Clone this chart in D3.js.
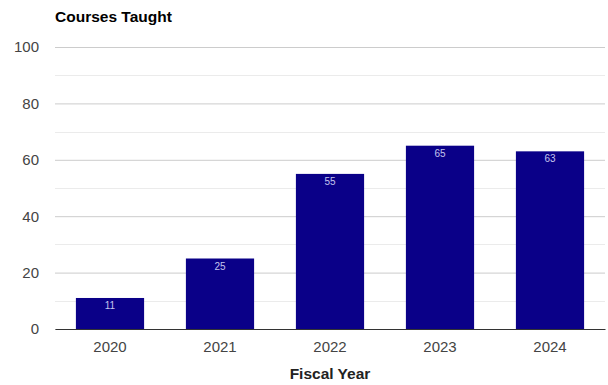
<!DOCTYPE html>
<html>
<head>
<meta charset="utf-8">
<script src="https://cdn.jsdelivr.net/npm/d3@7"></script>
<style>
  html, body { margin: 0; padding: 0; background: #fff; }
  svg { display: block; font-family: "Liberation Sans", Arial, sans-serif; }
</style>
</head>
<body>
<svg id="chart" width="608" height="385"></svg>
<script>
// Courses taught per fiscal year
const years = ["2020", "2021", "2022", "2023", "2024"];
const courses = [11, 25, 55, 65, 63];
const majorTicks = [0, 20, 40, 60, 80, 100];
const minorTicks = [10, 30, 50, 70, 90];

const svg = d3.select("#chart");
const margin = { top: 47, right: 3, bottom: 56, left: 55 };
const W = 608, H = 385;
const innerW = W - margin.left - margin.right;
const innerH = H - margin.top - margin.bottom;

const g = svg.append("g").attr("transform", `translate(${margin.left},${margin.top})`);

const x = d3.scaleBand().domain(years).range([0, innerW]).paddingInner(0.38).paddingOuter(0.19);
const y = d3.scaleLinear().domain([0, 100]).range([innerH, 0]);

// minor gridlines
g.selectAll(".minor").data(minorTicks).join("line")
  .attr("x1", 0).attr("x2", innerW)
  .attr("y1", d => Math.round(y(d)) + 0.5).attr("y2", d => Math.round(y(d)) + 0.5)
  .attr("stroke", "#ebebeb").attr("stroke-width", 1);

// major gridlines + y axis labels
const yAxis = d3.axisLeft(y).tickValues(majorTicks).tickSize(-innerW).tickPadding(16);
const ya = g.append("g").call(yAxis);
ya.select(".domain").remove();
ya.selectAll(".tick line").attr("stroke", "#cccccc");
ya.selectAll(".tick text").attr("fill", "#444").attr("font-size", 15);

// bars
g.selectAll(".bar").data(courses).join("rect")
  .attr("x", (d, i) => x(years[i]))
  .attr("width", x.bandwidth())
  .attr("y", d => y(d))
  .attr("height", d => innerH - y(d))
  .attr("fill", "#0a0088");

// value labels
g.selectAll(".val").data(courses).join("text")
  .attr("x", (d, i) => x(years[i]) + x.bandwidth() / 2)
  .attr("y", d => y(d) + 11)
  .attr("text-anchor", "middle")
  .attr("font-size", 10)
  .attr("fill", "#c4c4ee")
  .text(d => d);

// x axis
const xAxis = d3.axisBottom(x).tickSize(0).tickPadding(12);
const xa = g.append("g").attr("transform", `translate(0,${innerH})`).call(xAxis);
xa.select(".domain").attr("stroke", "#333").attr("stroke-width", 1);
xa.selectAll(".tick text").attr("fill", "#444").attr("font-size", 15);

// titles
svg.append("text")
  .attr("x", margin.left).attr("y", 22)
  .attr("font-size", 15.5).attr("font-weight", "bold").attr("fill", "#000")
  .text("Courses Taught");

svg.append("text")
  .attr("x", margin.left + innerW / 2).attr("y", 379)
  .attr("text-anchor", "middle")
  .attr("font-size", 15.5).attr("font-weight", "bold").attr("fill", "#222")
  .text("Fiscal Year");
</script>
</body>
</html>
